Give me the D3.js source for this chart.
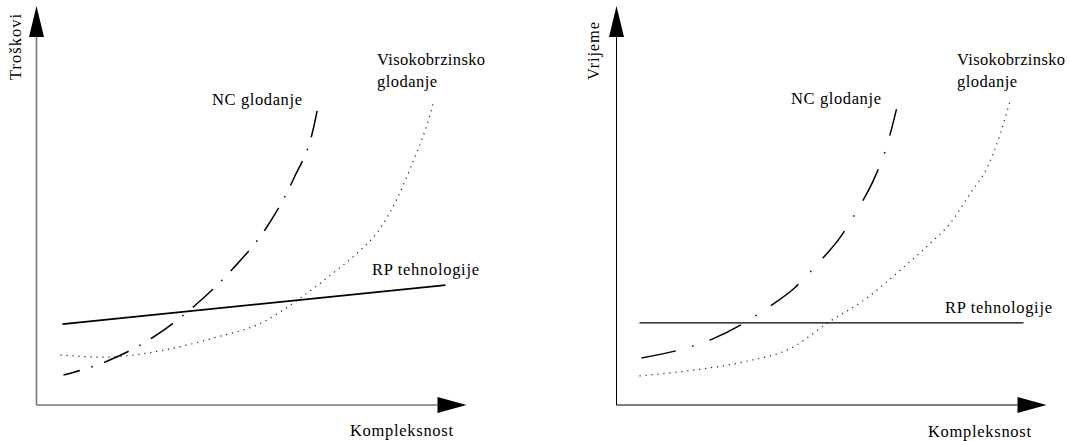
<!DOCTYPE html>
<html>
<head>
<meta charset="utf-8">
<script src="https://cdn.jsdelivr.net/npm/d3@7"></script>
<style>
  body { margin: 0; background: #fff; }
</style>
</head>
<body>
<script>
// values, in chart units (x: 0..100 along the arrow, y: 0..100 up the arrow)
var costNcX = [6.75, 17.75, 29.25, 39.75, 49.25, 57.75, 64.25, 69.25, 70.25];
var costNcY = [8.15, 11.96, 18.48, 27.17, 37.23, 48.64, 61.41, 75.27, 80.43];
var costHsX = [6, 16.75, 31.75, 44.25, 56.75, 65.25, 73.5, 80.5, 85.25, 90.25, 94, 96.5, 98.5, 99.25];
var costHsY = [13.6, 13.0, 14.9, 18.2, 22.6, 28.5, 35.3, 41.6, 47.0, 56.3, 65.8, 72.6, 79.3, 82.3];
var costRpX = [6.5, 102.25];
var costRpY = [22.0, 32.6];

var timeNcX = [6.25, 15.5, 23.5, 31, 37.75, 44.5, 50.5, 56, 60.5, 64.25, 67.5, 70];
var timeNcY = [12.8, 14.9, 17.7, 21.7, 26.4, 31.8, 38.6, 45.7, 53.5, 61.1, 70.1, 80.4];
var timeHsX = [5.75, 19.25, 31.75, 44.25, 52.75, 62.25, 71.5, 78.5, 83.5, 88.5, 92.75, 96, 98.25];
var timeHsY = [7.9, 9.5, 11.7, 15.8, 22.3, 28.8, 37.2, 44.0, 49.5, 57.6, 64.7, 73.9, 82.1];
var timeRpX = [5.75, 101.75];
var timeRpY = [22.3, 22.3];

var yTitles = ["Troškovi", "Vrijeme"];
var xTitle = "Kompleksnost";
var ncLabel = "NC glodanje";
var hsLabel = ["Visokobrzinsko", "glodanje"];
var rpLabel = "RP tehnologije";

var svg = d3.select("body").append("svg").attr("width", 1070).attr("height", 441);

function zip(xs, ys) {
  return xs.map(function (x, i) { return [x, ys[i]]; });
}

function label(g, x, y, txt, len) {
  var t = g.append("text").attr("x", x).attr("y", y)
    .style("font-family", "'Liberation Serif'").style("font-size", "16.5px")
    .text(txt);
  // measure first so the serif face is resolved, then stretch to the reference width
  t.node().getComputedTextLength();
  t.attr("textLength", len).attr("lengthAdjust", "spacing");
  return t;
}

function drawChart(c) {
  var xScale = d3.scaleLinear().domain([0, 100]).range([c.x0, c.x0 + 400]);
  var yScale = d3.scaleLinear().domain([0, 100]).range([405, 37]);
  var g = svg.append("g");

  var line = d3.line().x(function (d) { return xScale(d[0]); }).y(function (d) { return yScale(d[1]); })
    .curve(d3.curveMonotoneX);

  // axes with arrow heads
  g.append("line").attr("x1", xScale(0)).attr("y1", yScale(0)).attr("x2", xScale(0)).attr("y2", yScale(100))
    .style("stroke", c.axisColor).style("stroke-width", c.axisW);
  g.append("line").attr("x1", xScale(0)).attr("y1", yScale(0)).attr("x2", xScale(100) + 1).attr("y2", yScale(0))
    .style("stroke", c.axisColor).style("stroke-width", c.axisW);
  g.append("path").attr("d", "M" + (xScale(0) - 7.5) + "," + yScale(100) + "L" + (xScale(0) + 7.5) + "," + yScale(100) +
    "L" + xScale(0) + "," + (yScale(100) - 31) + "Z").style("fill", "#000");
  g.append("path").attr("d", "M" + (xScale(100) + 1) + "," + (yScale(0) - 8) + "L" + (xScale(100) + 1) + "," + (yScale(0) + 8) +
    "L" + (xScale(100) + 30) + "," + yScale(0) + "Z").style("fill", "#000");

  // curves
  g.append("path").datum(zip(c.hsX, c.hsY)).attr("d", line)
    .style("fill", "none").style("stroke", "#222").style("stroke-width", 1.2).style("stroke-dasharray", "1.2,4.8");
  g.append("path").datum(zip(c.ncX, c.ncY)).attr("d", line)
    .style("fill", "none").style("stroke", "#000").style("stroke-width", 1.5)
    .style("stroke-dasharray", c.ncDash).style("stroke-dashoffset", c.ncOffset);
  g.append("path").datum(zip(c.rpX, c.rpY)).attr("d", d3.line().x(function (d) { return xScale(d[0]); }).y(function (d) { return yScale(d[1]); }))
    .style("fill", "none").style("stroke", "#000").style("stroke-width", c.rpW);

  // texts
  label(g, 0, 0, c.yTitle, c.yTitleLen).attr("transform", "translate(" + c.yTitlePos[0] + "," + c.yTitlePos[1] + ") rotate(-90)")
    .attr("text-anchor", "end");
  label(g, c.xTitlePos[0], c.xTitlePos[1], xTitle, 103);
  label(g, c.ncPos[0], c.ncPos[1], ncLabel, 90);
  label(g, c.hsPos[0], c.hsPos[1], hsLabel[0], 108);
  label(g, c.hsPos[0], c.hsPos[1] + 22, hsLabel[1], 60);
  label(g, c.rpPos[0], c.rpPos[1], rpLabel, 107);
}

drawChart({
  x0: 36.5, axisColor: "#777", axisW: 1.6, rpW: 1.8,
  ncX: costNcX, ncY: costNcY, hsX: costHsX, hsY: costHsY, rpX: costRpX, rpY: costRpY,
  ncDash: "27,12,1.5,12", ncOffset: 10,
  yTitle: yTitles[0], yTitleLen: 66, yTitlePos: [21, 14], xTitlePos: [350, 436],
  ncPos: [212, 105], hsPos: [377, 65], rpPos: [372, 275]
});

drawChart({
  x0: 616.5, axisColor: "#000", axisW: 1, rpW: 1.3,
  ncX: timeNcX, ncY: timeNcY, hsX: timeHsX, hsY: timeHsY, rpX: timeRpX, rpY: timeRpY,
  ncDash: "35,17,1.5,17", ncOffset: 0,
  yTitle: yTitles[1], yTitleLen: 58, yTitlePos: [599, 22], xTitlePos: [928, 437],
  ncPos: [791, 104], hsPos: [957, 65], rpPos: [945, 313]
});
</script>
</body>
</html>
